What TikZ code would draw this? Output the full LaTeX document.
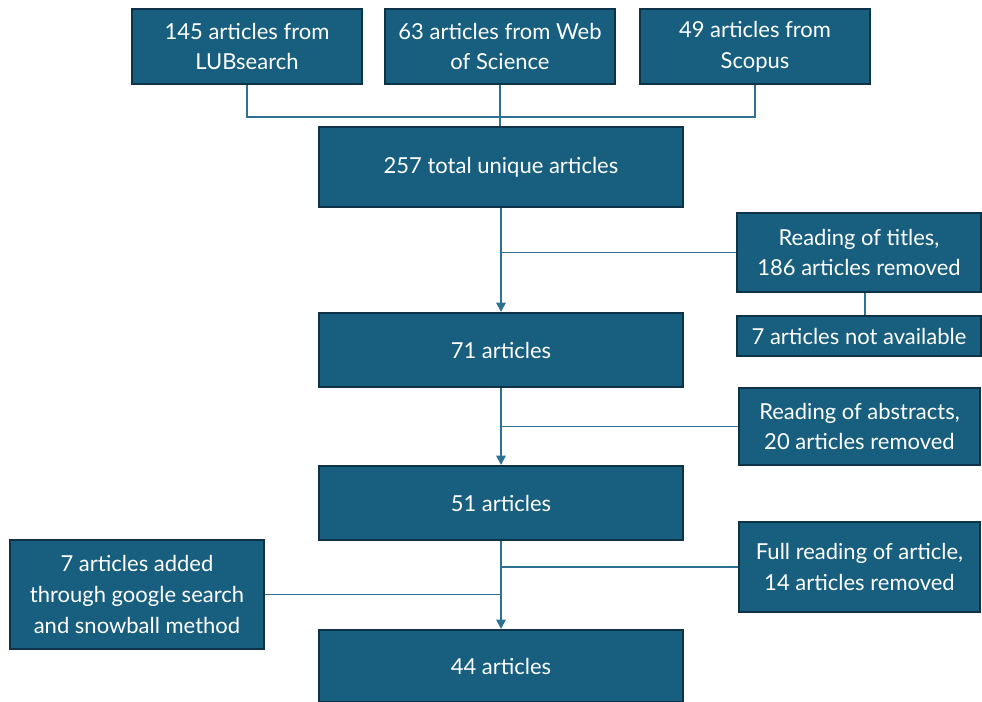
\documentclass[tikz,border=0pt]{standalone}
\usepackage{fontspec}
\setmainfont{Lato}
\usetikzlibrary{arrows.meta}

\definecolor{boxfill}{HTML}{175E7F}
\definecolor{boxline}{HTML}{0F3346}
\definecolor{linkcol}{HTML}{2D7193}

\tikzset{
  stage/.style={draw=boxline, line width=1.5pt, fill=boxfill, text=white, align=center,
    font=\fontsize{16.5}{23}\selectfont, inner sep=0pt},
  link/.style={draw=linkcol, line width=1.4pt},
  flow/.style={link, -{Triangle[length=7pt,width=7pt]}}
}

\begin{document}
\begin{tikzpicture}[x=0.75pt, y=-0.75pt]

\useasboundingbox (0,0) rectangle (982,701);

\node[stage, minimum width=230*0.75pt, minimum height=75*0.75pt] (lub) at (247,46.5) {145 articles from\\LUBsearch};
\node[stage, minimum width=230*0.75pt, minimum height=75*0.75pt] (wos) at (500,46.5) {63 articles from Web\\of Science};
\node[stage, minimum width=230*0.75pt, minimum height=75*0.75pt] (sco) at (755,46.5) {49 articles from\\Scopus};

\node[stage, minimum width=364*0.75pt, minimum height=80*0.75pt] (total) at (501,167) {257 total unique articles};
\node[stage, minimum width=364*0.75pt, minimum height=74*0.75pt] (a71) at (501,350) {71 articles};
\node[stage, minimum width=364*0.75pt, minimum height=74*0.75pt] (a51) at (501,503) {51 articles};
\node[stage, minimum width=364*0.75pt, minimum height=72*0.75pt] (a44) at (501,666) {44 articles};

\node[stage, minimum width=244*0.75pt, minimum height=79*0.75pt] (titles) at (859,252.5) {Reading of titles,\\186 articles removed};
\node[stage, minimum width=244*0.75pt, minimum height=40*0.75pt] (na) at (859,336) {7 articles not available};
\node[stage, minimum width=241*0.75pt, minimum height=77*0.75pt] (abs) at (859.5,426.5) {Reading of abstracts,\\20 articles removed};
\node[stage, minimum width=241*0.75pt, minimum height=90*0.75pt] (full) at (859.5,567) {Full reading of article,\\14 articles removed};
\node[stage, minimum width=254*0.75pt, minimum height=109*0.75pt] (added) at (137,594.5) {7 articles added\\through google search\\and snowball method};

\coordinate (bus) at (500,117);

% sources merge
\draw[link] (lub.south) |- (bus) -| (sco.south);
\draw[link] (wos.south) -- (wos.south |- total.north);

% screening steps
\draw[flow] (total.south) -- (a71.north);
\draw[link] (titles.west) -- (titles.west -| total.south);
\draw[link] ([xshift=6*0.75pt]titles.south) -- ([xshift=6*0.75pt]na.north);
\draw[flow] (a71.south) -- (a51.north);
\draw[link] (abs.west) -- (abs.west -| a71.south);
\draw[flow] (a51.south) -- (a44.north);
\draw[link] (full.west) -- (full.west -| a51.south);
\draw[link] (added.east) -- (added.east -| a51.south);

\end{tikzpicture}
\end{document}
